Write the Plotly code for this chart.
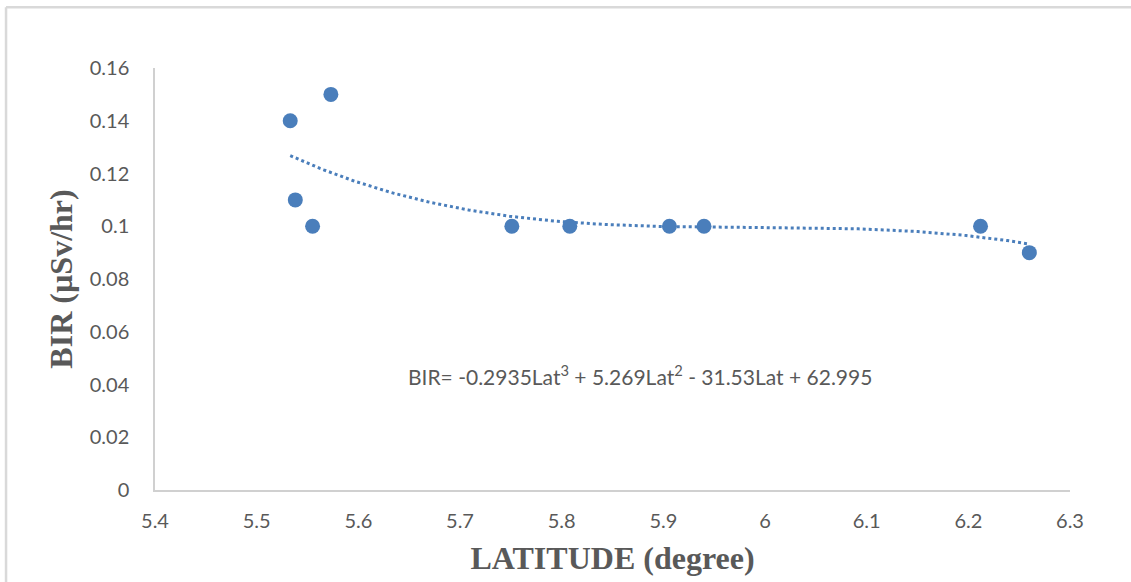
import numpy as np
import plotly.graph_objects as go

# Data
latitude = [5.533, 5.538, 5.555, 5.573, 5.751, 5.808, 5.906, 5.940, 6.212, 6.260]
bir = [0.14, 0.11, 0.10, 0.15, 0.10, 0.10, 0.10, 0.10, 0.10, 0.09]
x_ticks = [5.4, 5.5, 5.6, 5.7, 5.8, 5.9, 6.0, 6.1, 6.2, 6.3]
x_tick_text = ["5.4", "5.5", "5.6", "5.7", "5.8", "5.9", "6", "6.1", "6.2", "6.3"]
y_ticks = [0, 0.02, 0.04, 0.06, 0.08, 0.1, 0.12, 0.14, 0.16]
y_tick_text = ["0", "0.02", "0.04", "0.06", "0.08", "0.1", "0.12", "0.14", "0.16"]
equation = "BIR= -0.2935Lat<sup>3</sup> + 5.269Lat<sup>2</sup> - 31.53Lat + 62.995"

# Cubic trendline (as the spreadsheet does) fitted to the points
coef = np.polyfit(latitude, bir, 3)
xs = np.linspace(min(latitude), max(latitude), 200)
ys = np.polyval(coef, xs)

blue = "#4a7ebb"
grey = "#595959"

fig = go.Figure()
fig.add_trace(go.Scatter(x=xs, y=ys, mode="lines",
                         line=dict(color=blue, width=3, dash="dot"),
                         hoverinfo="skip", showlegend=False))
fig.add_trace(go.Scatter(x=latitude, y=bir, mode="markers",
                         marker=dict(color=blue, size=15),
                         showlegend=False))

fig.update_layout(
    width=1131, height=582,
    margin=dict(l=155, r=61, t=68, b=90),
    paper_bgcolor="white", plot_bgcolor="white",
    xaxis=dict(range=[5.4, 6.3], tickvals=x_ticks, ticktext=x_tick_text,
               showgrid=False, zeroline=False, showline=True,
               linecolor="#d0d0d0", linewidth=1.5, ticks="",
               tickfont=dict(family="Lato", size=20, color=grey),
               ticklabelstandoff=12,
               title=dict(text="<b>LATITUDE (degree)</b>", standoff=16,
                          font=dict(family="Liberation Serif", size=32, color=grey))),
    yaxis=dict(range=[0, 0.16], tickvals=y_ticks, ticktext=y_tick_text,
               showgrid=False, zeroline=False, showline=True,
               linecolor="#d0d0d0", linewidth=1.5, ticks="",
               tickfont=dict(family="Lato", size=20, color=grey),
               ticklabelstandoff=20,
               title=dict(text="<b>BIR (µSv/hr)</b>", standoff=8,
                          font=dict(family="Liberation Serif", size=32, color=grey))),
    annotations=[dict(x=0.530, y=0.235, xref="paper", yref="paper",
                      text=equation, showarrow=False,
                      font=dict(family="Lato", size=21, color=grey))],
    shapes=[
        dict(type="line", xref="paper", yref="paper",
             x0=-0.1628, x1=-0.1628, y0=-0.22, y1=1.1439,
             line=dict(color="#d9d9d9", width=2.5)),
        dict(type="line", xref="paper", yref="paper",
             x0=-0.1628, x1=1.07, y0=1.1439, y1=1.1439,
             line=dict(color="#d9d9d9", width=2.5)),
    ],
)

fig.write_html("out.html")
